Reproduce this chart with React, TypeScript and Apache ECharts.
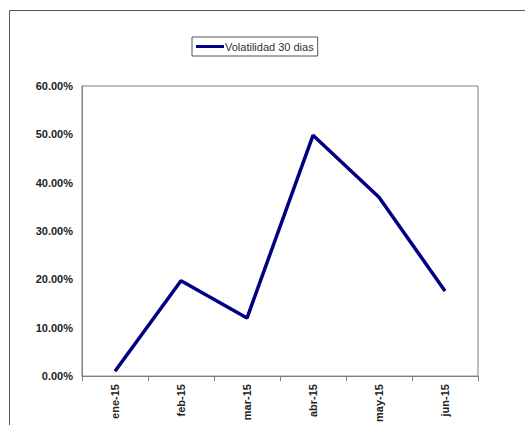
import React, { useEffect, useRef } from "react";
import * as echarts from "echarts";

const categories = ["ene-15", "feb-15", "mar-15", "abr-15", "may-15", "jun-15"];
const volatility = [1.0, 19.7, 12.0, 49.8, 37.0, 17.6];
const seriesName = "Volatilidad 30 dias";
const yTicks = { min: 0, max: 60, interval: 10 };

export default function App() {
  const ref = useRef<HTMLDivElement>(null);
  useEffect(() => {
    if (!ref.current) return;
    const chart = echarts.init(ref.current, undefined, { renderer: "svg" });
    chart.setOption({
      animation: false,
      backgroundColor: "#ffffff",
      textStyle: { fontFamily: "Liberation Sans, Arial, sans-serif" },
      graphic: [
        {
          type: "polyline",
          shape: { points: [[9.5, 425], [9.5, 10.5], [525, 10.5]] },
          style: { stroke: "#555555", lineWidth: 1, fill: "none" },
          silent: true,
        },
      ],
      legend: {
        left: 192,
        top: 37,
        orient: "horizontal",
        icon: "rect",
        itemWidth: 28,
        itemHeight: 3,
        itemGap: 4,
        padding: [4, 4, 4, 4],
        borderColor: "#555555",
        borderWidth: 1,
        textStyle: { fontSize: 11, color: "#333333", padding: [0, 0, 0, -4] },
        data: [seriesName],
      },
      grid: {
        left: 82,
        top: 86,
        right: 47,
        bottom: 46,
        show: true,
        borderColor: "#808080",
        borderWidth: 1,
      },
      xAxis: {
        type: "category",
        data: categories,
        boundaryGap: true,
        axisLine: { lineStyle: { color: "#808080", width: 1 } },
        axisTick: { show: true, alignWithLabel: false, length: 5, lineStyle: { color: "#808080" } },
        axisLabel: {
          rotate: 90,
          fontSize: 11,
          fontWeight: "bold",
          color: "#222222",
          margin: 8,
          interval: 0,
        },
        splitLine: { show: false },
      },
      yAxis: {
        type: "value",
        min: yTicks.min,
        max: yTicks.max,
        interval: yTicks.interval,
        axisLine: { show: true, lineStyle: { color: "#808080", width: 1 } },
        axisTick: { show: false },
        splitLine: { show: false },
        axisLabel: {
          fontSize: 11,
          fontWeight: "bold",
          color: "#222222",
          margin: 9,
          formatter: (v: number) => v.toFixed(2) + "%",
        },
      },
      series: [
        {
          name: seriesName,
          type: "line",
          data: volatility,
          symbol: "none",
          lineStyle: { color: "#000080", width: 3.5 },
          itemStyle: { color: "#000080" },
        },
      ],
    });
    return () => chart.dispose();
  }, []);
  return (
    <div
      ref={ref}
      style={{ position: "fixed", left: 0, top: 0, width: 525, height: 425 }}
    />
  );
}
